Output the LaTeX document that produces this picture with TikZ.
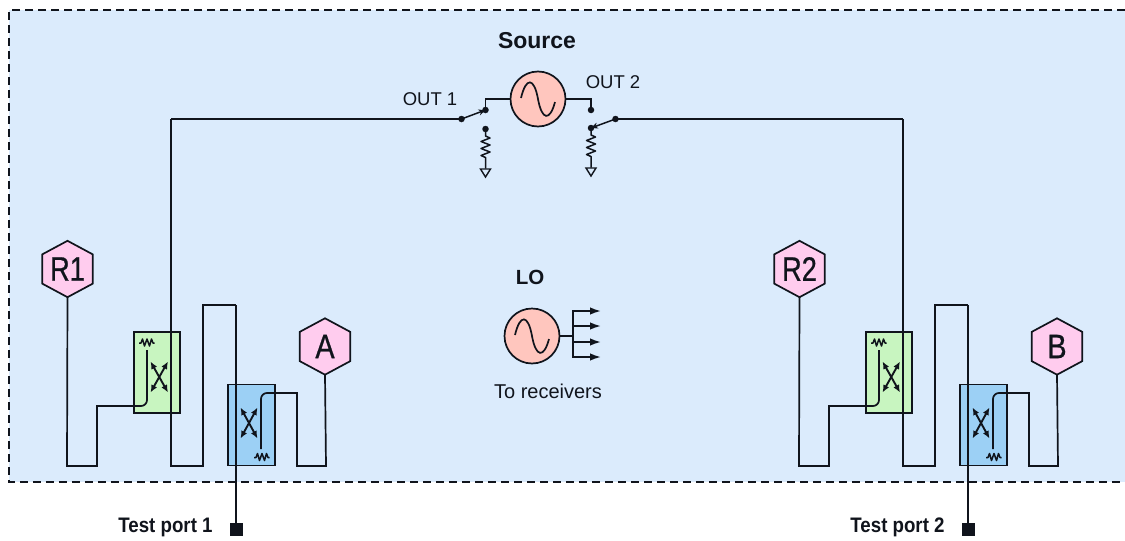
\documentclass[tikz,border=0pt]{standalone}
\usepackage{fontspec}
\setmainfont{Liberation Sans}
\newfontfamily\heavyfont[FakeBold=0.7]{Liberation Sans}
\usetikzlibrary{arrows.meta,calc}
\definecolor{bgblue}{HTML}{DBEBFC}
\definecolor{cplgreen}{HTML}{C8F5C0}
\definecolor{cplblue}{HTML}{9CD0F5}
\definecolor{hexpink}{HTML}{FFCCEE}
\definecolor{oscpink}{HTML}{FFC6BE}
\definecolor{ink}{HTML}{10141C}
\tikzset{
  wire/.style={draw=ink,line width=1.7pt,line join=miter},
  hexnode/.style={rectangle,minimum width=50pt,minimum height=56pt,inner sep=0pt,font=\fontsize{34}{34}\heavyfont\color{ink}},
  hexline/.style={draw=ink,line width=1.7pt,fill=hexpink,line join=miter},
  oscnode/.style={circle,draw=ink,line width=1.7pt,fill=oscpink,minimum size=55pt,inner sep=0pt},
  cplbox/.style={draw=ink,line width=1.7pt,minimum width=46.5pt,minimum height=81pt,inner sep=0pt},
  dotnode/.style={circle,fill=ink,minimum size=6.5pt,inner sep=0pt},
  portnode/.style={rectangle,fill=ink,minimum size=13pt,inner sep=0pt},
  lbl/.style={font=\fontsize{18.5}{19}\selectfont,text=ink,inner sep=0pt},
  lblrx/.style={font=\fontsize{20}{21}\selectfont,text=ink,inner sep=0pt},
  lblb/.style={font=\fontsize{23}{24}\selectfont\bfseries,text=ink,inner sep=0pt},
  lblo/.style={font=\fontsize{20.5}{21}\selectfont\bfseries,text=ink,inner sep=0pt},
  portlbl/.style={font=\fontsize{21}{22}\selectfont\bfseries,text=ink,inner sep=0pt},
  sig/.style={wire,-{Latex[length=11pt,width=7.5pt]}},
  xarrow/.style={draw=ink,line width=1.9pt,{Latex[length=7.5pt,width=6.5pt]}-{Latex[length=7.5pt,width=6.5pt]}},
  swarrow/.style={draw=ink,line width=1.5pt,-{Stealth[length=7pt,width=6pt]}},
  gnd/.style={draw=ink,line width=1.4pt,fill=bgblue},
  ohm/.style={draw=ink,line width=1.5pt,line join=round}
}
\newcommand{\sinewave}[1]{\draw[draw=ink,line width=1.7pt] ($(#1)+(-17,-1)$) .. controls ($(#1)+(-12,-22)$) and ($(#1)+(-4,-22)$) .. ($(#1)+(0,0)$) .. controls ($(#1)+(4,22)$) and ($(#1)+(12,22)$) .. ($(#1)+(17,3)$);}
\newcommand{\hexround}[1]{\draw[hexline] (#1.north) -- ($(#1.north east)!0.24!(#1.south east)$) -- ($(#1.north east)!0.76!(#1.south east)$) -- (#1.south) -- ($(#1.north west)!0.76!(#1.south west)$) -- ($(#1.north west)!0.24!(#1.south west)$) -- cycle;}
\begin{document}
\begin{tikzpicture}[x=1pt,y=-1pt]
\useasboundingbox (0,0) rectangle (1125,541);
\fill[white] (0,0) rectangle (1125,541);
\fill[bgblue] (9,10) rectangle (1125,482);
\draw[ink,line width=1.5pt,dash pattern=on 8pt off 5pt] (1125,10) -- (9,10) -- (9,482) -- (1125,482);
% Source
\node[oscnode] (src) at (538,99) {};
\sinewave{src}
\node[lblb] (srclbl) at (537,41) {Source};
\node[lbl] (out1) at (430,99) {OUT 1};
\node[lbl] (out2) at (613,82) {OUT 2};
\node[dotnode] (s1a) at (485.5,110) {};
\node[dotnode] (s1b) at (485.5,129) {};
\node[dotnode] (s1c) at (461.5,119) {};
\node[dotnode] (s2a) at (591,110) {};
\node[dotnode] (s2b) at (591,128) {};
\node[dotnode] (s2c) at (615.5,119) {};
\draw[wire] (src.west) -| (s1a.center);
\draw[wire] (src.east) -| (s2a.center);
\draw[swarrow] (s1c.center) -- (s1a.center);
\draw[swarrow] (s2c.center) -- (s2b.center);
% Loads
\foreach \n in {s1b,s2b}{
  \draw[ohm] (\n.center) -- ++(0,7) -- ++(4.5,2) -- ++(-9,3.5) -- ++(9,3.5) -- ++(-9,3.5) -- ++(9,3.5) -- ++(-9,3.5) -- ++(4.5,2) -- ++(0,11);
  \draw[gnd] ($(\n.center)+(-5,40)$) -- ++(10,0) -- ++(-5,8) -- cycle;
}
% LO
\node[oscnode] (lo) at (532,336) {};
\sinewave{lo}
\node[lblo] (lolbl) at (530,277) {LO};
\node[lblrx] (rx) at (548,391) {To receivers};
\coordinate (bus) at (573,336);
\draw[wire] (lo.east) -- (bus);
\draw[wire] (573,310.2) -- (573,357.8);
\foreach \yy in {311,326,342,357}{
  \coordinate (rx\yy) at (601,\yy);
  \draw[sig] (573,\yy) -- (rx\yy);
}
% Channels
\foreach \k/\dx/\rn/\hn in {1/0/R1/A,2/732/R2/B}{
\begin{scope}[xshift=\dx pt]
  \node[cplbox,fill=cplgreen] (gbox\k) at (157,372.5) {};
  \node[cplbox,fill=cplblue] (bbox\k) at (251.5,425) {};
  \node[hexnode] (r\k) at (67.5,269) {};
  \hexround{r\k}
  \node[hexnode] at (r\k) {\scalebox{.8}[1]{\rn}};
  \node[hexnode] (h\k) at (325,346.5) {};
  \hexround{h\k}
  \node[hexnode] at (h\k) {\scalebox{.85}[1]{\hn}};
  \node[portnode] (port\k) at (236,529) {};
  \node[portlbl] (plbl\k) at (165.5,527) {\scalebox{.89}[1]{Test port \k}};
  % R path via green coupler
  \draw[wire] (r\k.south) -- (67,466) -- (97,466) -- (97,406) [rounded corners=6pt] -- (147,406) [sharp corners] -- (147,350);
  % main path
  \draw[wire] (236,305) -- (203,305) -- (203,466) -- (171,466) -- (171,119) coordinate (top\k);
  \draw[draw=ink,line width=1.6pt] (236,305) -- (port\k.center);
  % test path via blue coupler
  \draw[wire] (h\k.south) -- (326,466) -- (297,466) -- (297,393) [rounded corners=6pt] -- (261,393) [sharp corners] -- (261,449);
  % coupler arrows
  \draw[xarrow] (150.5,361.5) -- (168,392.5);
  \draw[xarrow] (168,361.5) -- (150.5,392.5);
  \draw[xarrow] (240.5,407.5) -- (257.5,438.5);
  \draw[xarrow] (257.5,407.5) -- (240.5,438.5);
  % coupler terminations
  \draw[ohm] (139,343) -- ++(2,0) -- ++(1.5,-4) -- ++(2,7) -- ++(2.5,-7) -- ++(2.5,7) -- ++(2,-7) -- ++(1.5,4) -- ++(1.5,0);
  \draw[ohm] (254,457.5) -- ++(2,0) -- ++(1.5,-4) -- ++(2,7) -- ++(2.5,-7) -- ++(2.5,7) -- ++(2,-7) -- ++(1.5,4) -- ++(1.5,0);
\end{scope}
}
\draw[wire] (top1) -- (s1c.center);
\draw[wire] (top2) -- (s2c.center);
\end{tikzpicture}
\end{document}
